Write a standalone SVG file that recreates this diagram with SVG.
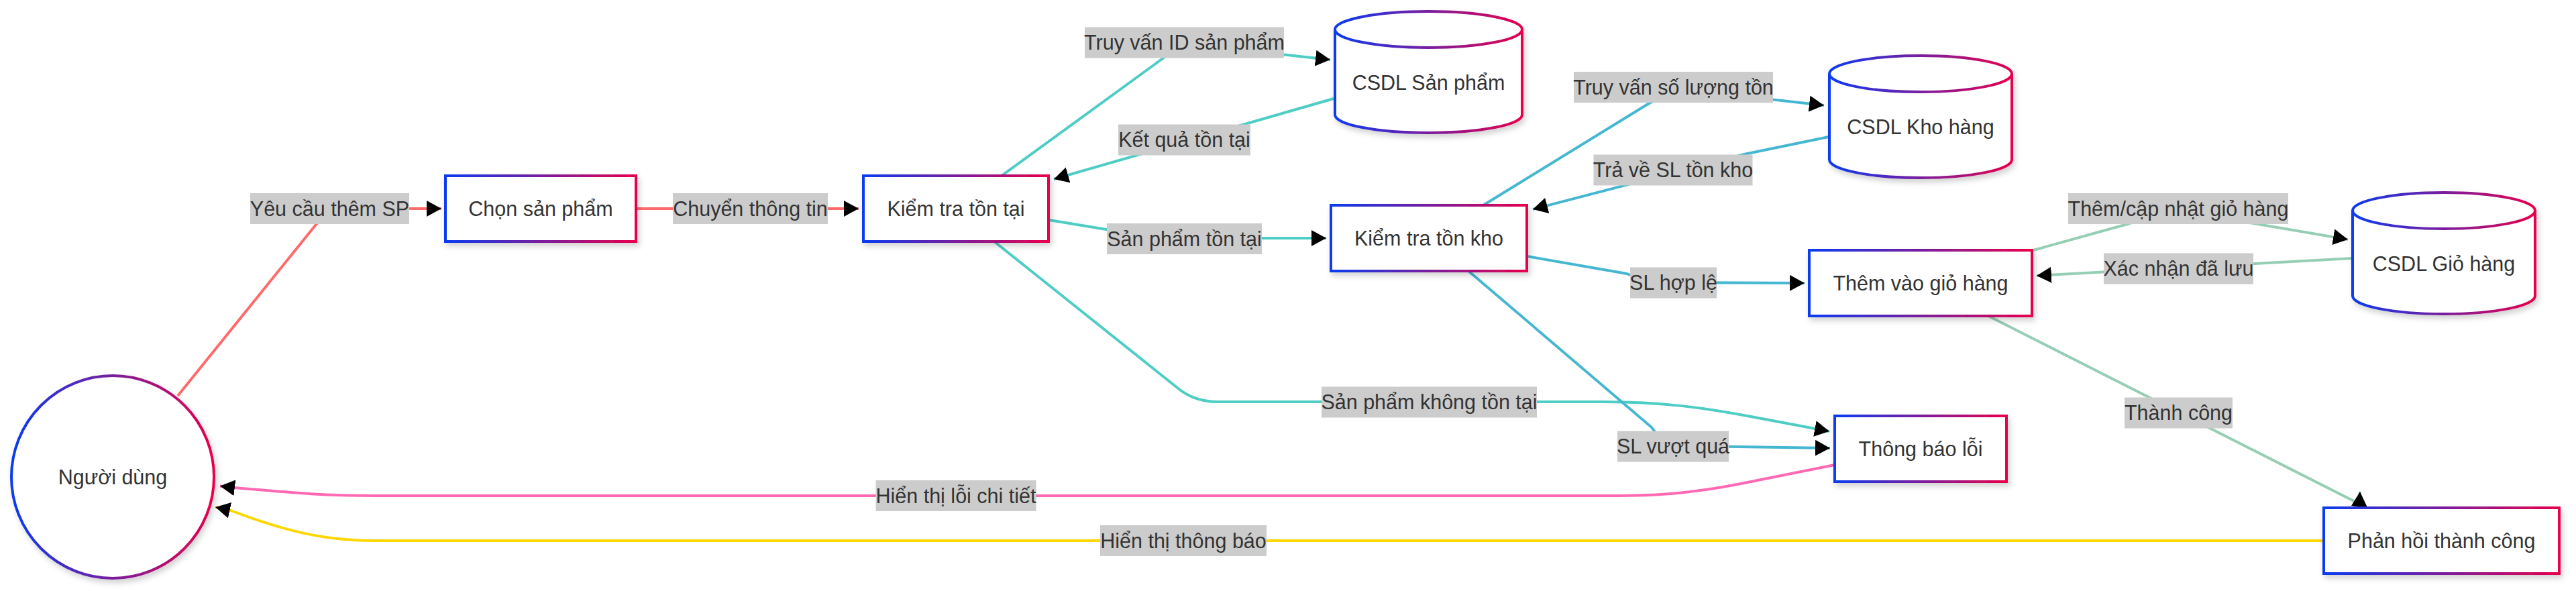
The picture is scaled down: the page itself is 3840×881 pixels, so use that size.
<svg xmlns="http://www.w3.org/2000/svg" width="3840" height="881" viewBox="0 0 3840 881">
<defs>
<linearGradient id="g" x1="0" y1="0" x2="1" y2="0">
<stop offset="0" stop-color="#0A3BF0"/>
<stop offset="1" stop-color="#E8004C"/>
</linearGradient>
<filter id="sh" x="-10%" y="-10%" width="130%" height="140%">
<feDropShadow dx="3" dy="5" stdDeviation="4" flood-color="#000" flood-opacity="0.18"/>
</filter>
<marker id="arr" viewBox="0 0 22 24" refX="22" refY="12" markerWidth="22" markerHeight="24" markerUnits="userSpaceOnUse" orient="auto">
<path d="M0,0 L22,12 L0,24 z" fill="#000"/>
</marker>
<style>
.shape{fill:#fff;stroke:url(#g);stroke-width:4;filter:url(#sh);}
.t{font-family:"Liberation Sans",Arial,sans-serif;font-size:30.5px;fill:#333;text-anchor:middle;}
.e{fill:none;stroke-width:4;marker-end:url(#arr);}
.red{stroke:#FF6B6B;}
.teal{stroke:#4ECDC4;}
.blue{stroke:#45B7D1;}
.green{stroke:#96CEB4;}
.pink{stroke:#FF69B4;}
.gold{stroke:#FFD700;}
.lb{fill:#cccccc;}
</style>
</defs>
<rect width="3840" height="881" fill="#fff"/>
<g id="connectors">
<path class="e red" d="M265,590 L470,336 Q492,311 525,311 L658,311"/>
<path class="e red" d="M948,311 L1280,311"/>
<path class="e teal" d="M1493,262 L1728,91 Q1755,70 1790,68 L1983,89"/>
<path class="e teal" d="M1988,147 L1571,267"/>
<path class="e teal" d="M1564,328 L1655,343 Q1690,355 1730,355 L1977,355"/>
<path class="e teal" d="M1482,360 L1755,578 Q1780,599 1815,599 L2390,599 C2480,599 2540,608 2610,621 L2727,643"/>
<path class="e blue" d="M2211,306 L2455,156 Q2485,138 2530,136 L2719,157"/>
<path class="e blue" d="M2726,204 L2600,230 L2285,312"/>
<path class="e blue" d="M2276,382 L2425,408 Q2455,421 2490,421 L2690,422"/>
<path class="e blue" d="M2189,404 L2462,637 Q2480,664 2515,665 L2728,668"/>
<path class="e green" d="M3031,373 L3175,333 Q3215,316 3260,316 L3500,357"/>
<path class="e green" d="M3507,385 L3036,411"/>
<path class="e green" d="M2964,471 L3517,751 L3518,733"/>
<path class="e pink" d="M2735,693 L2600,720 C2520,736 2470,739 2400,739 L560,739 C480,739 430,734 348,727 L328,724.5"/>
<path class="e gold" d="M3464,806 L560,806 C480,806 420,790 344,761 L321,756"/>
</g>
<g id="edge-labels">
<g><rect class="lb" x="373" y="288" width="237" height="46"/><text class="t" x="491.5" y="321.5">Yêu cầu thêm SP</text></g>
<g><rect class="lb" x="1003" y="288" width="231" height="46"/><text class="t" x="1118.5" y="321.5">Chuyển thông tin</text></g>
<g><rect class="lb" x="1617" y="40.5" width="297" height="46"/><text class="t" x="1765.5" y="74">Truy vấn ID sản phẩm</text></g>
<g><rect class="lb" x="1667" y="185.5" width="197" height="46"/><text class="t" x="1765.5" y="219">Kết quả tồn tại</text></g>
<g><rect class="lb" x="1650" y="333" width="231" height="46"/><text class="t" x="1765.5" y="366.5">Sản phẩm tồn tại</text></g>
<g><rect class="lb" x="1970" y="576.5" width="321" height="46"/><text class="t" x="2130.5" y="610">Sản phẩm không tồn tại</text></g>
<g><rect class="lb" x="2346" y="107" width="297" height="46"/><text class="t" x="2494.5" y="140.5">Truy vấn số lượng tồn</text></g>
<g><rect class="lb" x="2375.5" y="230.5" width="237" height="46"/><text class="t" x="2494" y="264">Trả về SL tồn kho</text></g>
<g><rect class="lb" x="2430" y="398.5" width="129" height="46"/><text class="t" x="2494.5" y="432">SL hợp lệ</text></g>
<g><rect class="lb" x="2411" y="642.5" width="166" height="46"/><text class="t" x="2494" y="676">SL vượt quá</text></g>
<g><rect class="lb" x="3083" y="288" width="328" height="46"/><text class="t" x="3247" y="321.5">Thêm/cập nhật giỏ hàng</text></g>
<g><rect class="lb" x="3136" y="377.5" width="223" height="46"/><text class="t" x="3247.5" y="411">Xác nhận đã lưu</text></g>
<g><rect class="lb" x="3167" y="592.5" width="161" height="46"/><text class="t" x="3247.5" y="626">Thành công</text></g>
<g><rect class="lb" x="1305.5" y="716" width="239" height="46"/><text class="t" x="1425" y="749.5">Hiển thị lỗi chi tiết</text></g>
<g><rect class="lb" x="1640" y="783" width="248" height="46"/><text class="t" x="1764" y="816.5">Hiển thị thông báo</text></g>
</g>
<g id="node-user"><circle class="shape" cx="168" cy="711" r="151"/><text class="t" x="168" y="721.5">Người dùng</text></g>
<g id="node-chon"><rect class="shape" x="664" y="262" width="284" height="98"/><text class="t" x="806" y="321.5">Chọn sản phẩm</text></g>
<g id="node-kttt"><rect class="shape" x="1287" y="262" width="276" height="98"/><text class="t" x="1425" y="321.5">Kiểm tra tồn tại</text></g>
<g id="node-csdlsp"><path class="shape" d="M1990,44 a139.5,27 0 0,0 279,0 a139.5,27 0 0,0 -279,0 l0,127 a139.5,27 0 0,0 279,0 l0,-127"/><text class="t" x="2129.5" y="133.5">CSDL Sản phẩm</text></g>
<g id="node-kttk"><rect class="shape" x="1984" y="306" width="292" height="98"/><text class="t" x="2130" y="365.5">Kiểm tra tồn kho</text></g>
<g id="node-csdlkho"><path class="shape" d="M2727,110 a136,27 0 0,0 272,0 a136,27 0 0,0 -272,0 l0,128 a136,27 0 0,0 272,0 l0,-128"/><text class="t" x="2863" y="200">CSDL Kho hàng</text></g>
<g id="node-them"><rect class="shape" x="2697" y="373" width="332" height="98"/><text class="t" x="2863" y="432.5">Thêm vào giỏ hàng</text></g>
<g id="node-csdlgio"><path class="shape" d="M3507,314 a136,27 0 0,0 272,0 a136,27 0 0,0 -272,0 l0,127 a136,27 0 0,0 272,0 l0,-127"/><text class="t" x="3643" y="403.5">CSDL Giỏ hàng</text></g>
<g id="node-loi"><rect class="shape" x="2735" y="620" width="256" height="98"/><text class="t" x="2863" y="679.5">Thông báo lỗi</text></g>
<g id="node-phanhoi"><rect class="shape" x="3464" y="757" width="351" height="98"/><text class="t" x="3639.5" y="816.5">Phản hồi thành công</text></g>
</svg>
